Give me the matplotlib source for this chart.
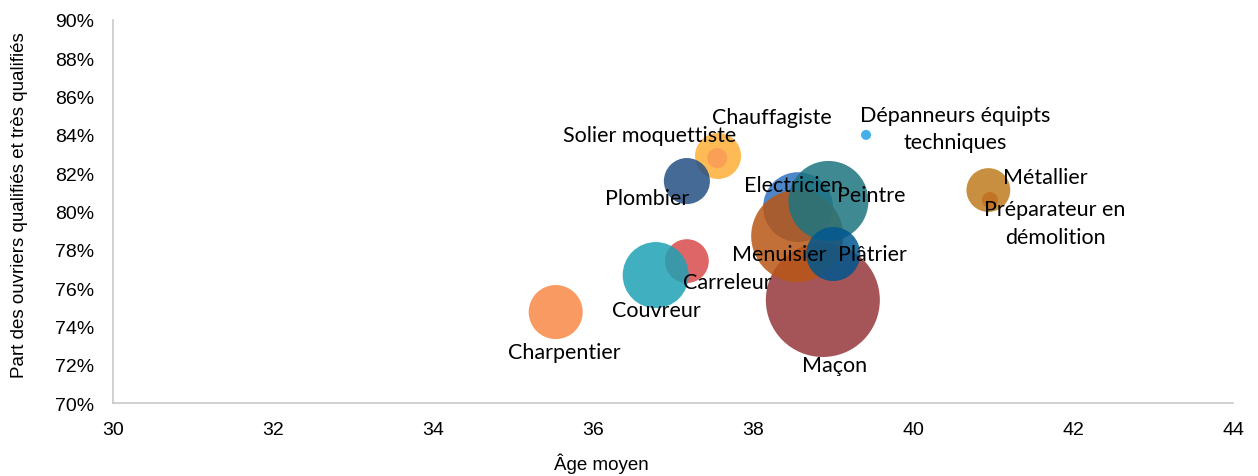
import numpy as np
import matplotlib
matplotlib.use("Agg")
import matplotlib.pyplot as plt
import matplotlib.colors as mcolors
from matplotlib.ticker import PercentFormatter

# data (drawing order matters for overlaps)
metiers = ["Charpentier", "Maçon", "Electricien", "Menuisier", "Peintre", "Plâtrier",
           "Carreleur", "Couvreur", "Chauffagiste", "Plombier", "Solier moquettiste",
           "Dépanneurs équipts\ntechniques", "Préparateur en\ndémolition", "Métallier"]
age_moyen = [35.53, 38.87, 38.56, 38.55, 38.94, 39.00,
             37.17, 36.78, 37.56, 37.17, 37.55,
             39.41, 40.96, 40.94]
part_qualifies = [0.7475, 0.7538, 0.8023, 0.7872, 0.8055, 0.7778,
                  0.7741, 0.7668, 0.8290, 0.8159, 0.8279,
                  0.8400, 0.8060, 0.8112]
effectif = [73, 325, 122, 212, 160, 73,
            48, 109, 53, 53, 10,
            2.5, 6.4, 48]

# colours as they appear on white, and label offsets (px, y down)
couleurs = ["#F99A62", "#A65558", "#4E86C8", "#C36F38", "#3F8A92", "#2370A0",
            "#DF6666", "#40B0C0", "#FEBC55", "#456A96", "#FAAA70",
            "#44AFE8", "#E05050", "#C78F3F"]
decalages = [(9, 40), (12, 65), (-5, -22), (-18, 18), (43, -6), (39, 0),
             (40, 21), (1, 35), (54, -39), (-40, 17), (-68, -23),
             (89, -6), (65, 23), (57, -13)]

alpha = 0.85


def base_colour(hexcol, a):
    rgb = np.array(mcolors.to_rgb(hexcol))
    return tuple(np.clip((rgb - (1 - a)) / a, 0, 1))


fig = plt.figure(figsize=(12.58, 4.77), dpi=100)
ax = fig.add_axes([0.0902, 0.153, 0.890, 0.803])

taille = np.array(effectif) * 20.736
for i in range(len(metiers)):
    ax.scatter(age_moyen[i], part_qualifies[i], s=taille[i],
               color=base_colour(couleurs[i], alpha), alpha=alpha,
               edgecolors="none", zorder=2 + i)

for i in range(len(metiers)):
    dx, dy = decalages[i]
    ax.annotate(metiers[i], (age_moyen[i], part_qualifies[i]),
                xytext=(dx, -dy), textcoords="offset pixels",
                ha="center", va="center", multialignment="center",
                fontsize=15.5, family="Lato", color="black",
                linespacing=1.45, zorder=30)

ax.set_xlim(30, 44)
ax.set_ylim(0.70, 0.90)
ax.set_xticks(np.arange(30, 45, 2))
ax.set_yticks(np.arange(0.70, 0.901, 0.02))
ax.yaxis.set_major_formatter(PercentFormatter(1.0, decimals=0))

for s in ["top", "right"]:
    ax.spines[s].set_visible(False)
for s in ["left", "bottom"]:
    ax.spines[s].set_color("#C8C8C8")
    ax.spines[s].set_linewidth(1.2)

ax.tick_params(axis="both", length=0, labelsize=14)
ax.tick_params(axis="y", pad=14)
ax.tick_params(axis="x", pad=13)
for lab in ax.get_xticklabels() + ax.get_yticklabels():
    lab.set_family("Liberation Sans")

ax.set_xlabel("Âge moyen", fontsize=13.5, family="Liberation Sans", va="center")
ax.set_ylabel("Part des ouvriers qualifiés et très qualifiés", fontsize=13.5,
              family="Liberation Sans", va="center")
ax.xaxis.set_label_coords(0.436, -0.157)
ax.yaxis.set_label_coords(-0.084, 0.52)

fig.savefig("out.png", dpi=100)
